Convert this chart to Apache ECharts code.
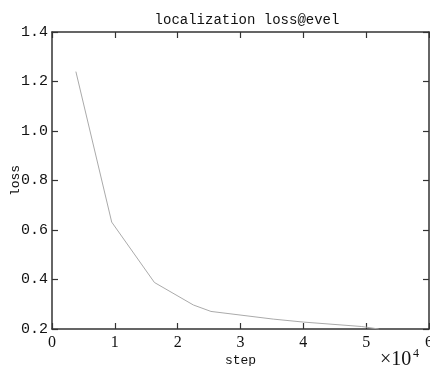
<!DOCTYPE html>
<html><head><meta charset="utf-8">
<script src="https://cdn.jsdelivr.net/npm/echarts@6/dist/echarts.min.js"></script>
<style>html,body{margin:0;padding:0;background:#fff}#c{width:430px;height:366px}</style>
</head><body><div id="c"></div>
<script>
const steps = [3800, 9500, 16300, 22500, 25300, 35200, 40000, 49300, 52000];
const loss = [1.24, 0.632, 0.388, 0.297, 0.271, 0.24, 0.228, 0.21, 0.2];
const xTicks = [0, 1, 2, 3, 4, 5, 6];
const yTicks = [0.2, 0.4, 0.6, 0.8, 1.0, 1.2, 1.4];
const title = 'localization loss@evel';
const xName = 'step';
const yName = 'loss';

const axisColor = '#333';
const mono = '"Liberation Mono", "DejaVu Sans Mono", monospace';
const serif = '"Liberation Serif", serif';
const chart = echarts.init(document.getElementById('c'));
const lineCommon = {show: true, onZero: false, lineStyle: {color: axisColor, width: 1.5}};
const tickCommon = {show: true, inside: true, length: 6, lineStyle: {color: axisColor, width: 1.2}};
chart.setOption({
  animation: false,
  backgroundColor: '#fff',
  title: {text: title, left: 242, top: 8, textAlign: 'center',
    textStyle: {fontFamily: mono, fontSize: 14, fontWeight: 'normal', color: '#111'}},
  grid: {left: 52, right: 1, top: 32, bottom: 37, containLabel: false, outerBoundsMode: 'none'},
  graphic: [{type: 'text', left: 380, top: 350,
    style: {text: '×10', font: '20px ' + serif, fill: '#111'}},
    {type: 'text', left: 413, top: 348,
    style: {text: '4', font: '12px ' + serif, fill: '#111'}}],
  xAxis: [{
    type: 'value', min: 0, max: 60000, interval: 10000, position: 'bottom',
    name: xName, nameLocation: 'middle', nameGap: 25, nameMoveOverlap: false,
    nameTextStyle: {fontFamily: mono, fontSize: 13, color: '#111'},
    axisLine: lineCommon, axisTick: tickCommon, splitLine: {show: false},
    axisLabel: {formatter: v => String(xTicks[Math.round(v / 10000)]), fontFamily: serif, fontSize: 16, color: '#111', margin: 6}
  }, {
    type: 'value', min: 0, max: 60000, interval: 10000, position: 'top',
    axisLine: lineCommon, axisTick: tickCommon, splitLine: {show: false}, axisLabel: {show: false}
  }],
  yAxis: [{
    type: 'value', min: 0.2, max: 1.4, interval: 0.2, position: 'left',
    name: yName, nameLocation: 'middle', nameGap: 30, nameRotate: 90, nameMoveOverlap: false,
    nameTextStyle: {fontFamily: mono, fontSize: 13, color: '#111'},
    axisLine: lineCommon, axisTick: tickCommon, splitLine: {show: false},
    axisLabel: {formatter: v => {
      const t = yTicks.find(y => Math.abs(y - v) < 1e-6);
      return (t !== undefined ? t : v).toFixed(1);
    }, fontFamily: mono, fontSize: 15, color: '#111', margin: 4}
  }, {
    type: 'value', min: 0.2, max: 1.4, interval: 0.2, position: 'right',
    axisLine: lineCommon, axisTick: tickCommon, splitLine: {show: false}, axisLabel: {show: false}
  }],
  series: [{
    type: 'line', xAxisIndex: 0, yAxisIndex: 0,
    data: steps.map((s, i) => [s, loss[i]]),
    showSymbol: false, symbol: 'none',
    lineStyle: {color: '#aaa', width: 1}
  }]
});
</script></body></html>
